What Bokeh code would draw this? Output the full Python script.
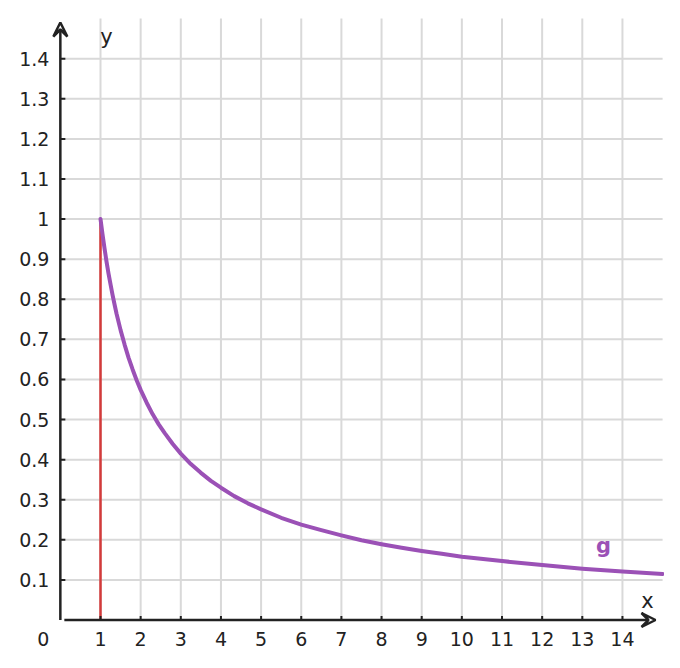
from bokeh.plotting import figure
from bokeh.models import Arrow, VeeHead, Range1d
from bokeh.core.properties import value
from bokeh.embed import file_html
from bokeh.resources import INLINE

# data
x_ticks = [1, 2, 3, 4, 5, 6, 7, 8, 9, 10, 11, 12, 13, 14]
y_ticks = [0.1, 0.2, 0.3, 0.4, 0.5, 0.6, 0.7, 0.8, 0.9, 1.0, 1.1, 1.2, 1.3, 1.4]
y_tick_labels = ["0.1", "0.2", "0.3", "0.4", "0.5", "0.6", "0.7", "0.8", "0.9", "1", "1.1", "1.2", "1.3", "1.4"]
g_x = [1.0, 1.05, 1.1, 1.15, 1.2, 1.25, 1.3, 1.35, 1.4, 1.5, 1.6, 1.7, 1.8, 1.9, 2.0,
       2.15, 2.3, 2.45, 2.6, 2.8, 3.0, 3.25, 3.5, 3.75, 4.0, 4.33, 4.67, 5.0, 5.5,
       6.0, 6.5, 7.0, 7.5, 8.0, 8.5, 9.0, 9.5, 10.0, 11.0, 12.0, 13.0, 14.0, 15.0]
g_y = [1.0, 0.962, 0.927, 0.894, 0.864, 0.837, 0.811, 0.787, 0.764, 0.723, 0.687, 0.654,
       0.625, 0.598, 0.574, 0.542, 0.513, 0.488, 0.466, 0.439, 0.415, 0.389, 0.367,
       0.347, 0.330, 0.309, 0.291, 0.276, 0.255, 0.238, 0.224, 0.211, 0.199, 0.189,
       0.180, 0.172, 0.165, 0.158, 0.147, 0.137, 0.128, 0.121, 0.115]
red_x = [1, 1]
red_y = [0, 1]

sx = 40.15
sy = 400.9
x0_px = 59.85
y0_px = 619.5
W, H = 664, 652

p = figure(width=W, height=H, output_backend="svg", toolbar_location=None,
           x_axis_location=None, y_axis_location=None, min_border=0,
           x_range=Range1d(-x0_px / sx, (W - x0_px) / sx),
           y_range=Range1d(-(H - y0_px) / sy, y0_px / sy))
p.outline_line_color = None
p.grid.visible = False
p.background_fill_color = "white"

grid_col = "#d9d9d9"
x_max = 15.0
y_max = (619.5 - 18) / sy
# grid lines
p.segment(x0=x_ticks, y0=[0] * len(x_ticks), x1=x_ticks, y1=[y_max] * len(x_ticks),
          line_color=grid_col, line_width=2)
p.segment(x0=[0] * len(y_ticks), y0=y_ticks, x1=[x_max] * len(y_ticks), y1=y_ticks,
          line_color=grid_col, line_width=2)

# red vertical line
p.line(red_x, red_y, line_color="#d33a3a", line_width=2.5)

# curve
p.line(g_x, g_y, line_color="#9b51b6", line_width=4, line_cap="round", line_join="round")

axis_col = "#222222"
# axes with arrows
p.add_layout(Arrow(x_start=0, y_start=0, x_end=0, y_end=(619.5 - 22) / sy,
                   line_color=axis_col, line_width=2.5,
                   end=VeeHead(size=14, line_color=axis_col, line_width=2.5, fill_color=None, fill_alpha=0)))
p.add_layout(Arrow(x_start=4 / sx, y_start=0, x_end=(655 - 59.85) / sx, y_end=0,
                   line_color=axis_col, line_width=2.5,
                   end=VeeHead(size=14, line_color=axis_col, line_width=2.5, fill_color=None, fill_alpha=0)))

# tick marks
p.segment(x0=[0] * len(y_ticks), y0=y_ticks, x1=[5 / sx] * len(y_ticks), y1=y_ticks,
          line_color=axis_col, line_width=2)
p.segment(x0=x_ticks, y0=[0] * len(x_ticks), x1=x_ticks, y1=[4 / sy] * len(x_ticks),
          line_color=axis_col, line_width=2)

font = value("DejaVu Sans")
fs = "19px"
# tick labels
p.text(x=[-11 / sx] * len(y_ticks), y=y_ticks, text=y_tick_labels, text_font=font,
       text_font_size=fs, text_color=axis_col, text_align="right", text_baseline="middle")
p.text(x=x_ticks, y=[-19 / sy] * len(x_ticks), text=[str(v) for v in x_ticks], text_font=font,
       text_font_size=fs, text_color=axis_col, text_align="center", text_baseline="middle")
p.text(x=[-17 / sx], y=[-19 / sy], text=["0"], text_font=font,
       text_font_size=fs, text_color=axis_col, text_align="center", text_baseline="middle")
# axis names
p.text(x=[(106 - 59.85) / sx], y=[(619.5 - 36) / sy], text=["y"], text_font=font,
       text_font_size="21px", text_color=axis_col, text_align="center", text_baseline="middle")
p.text(x=[(647 - 59.85) / sx], y=[(619.5 - 600) / sy], text=["x"], text_font=font,
       text_font_size="21px", text_color=axis_col, text_align="center", text_baseline="middle")
# curve label
p.text(x=[(603 - 59.85) / sx], y=[(619.5 - 545) / sy], text=["g"], text_font=font,
       text_font_style="bold", text_font_size="21px", text_color="#9b51b6",
       text_align="center", text_baseline="middle")

open("out.html", "w").write(file_html(p, INLINE))
